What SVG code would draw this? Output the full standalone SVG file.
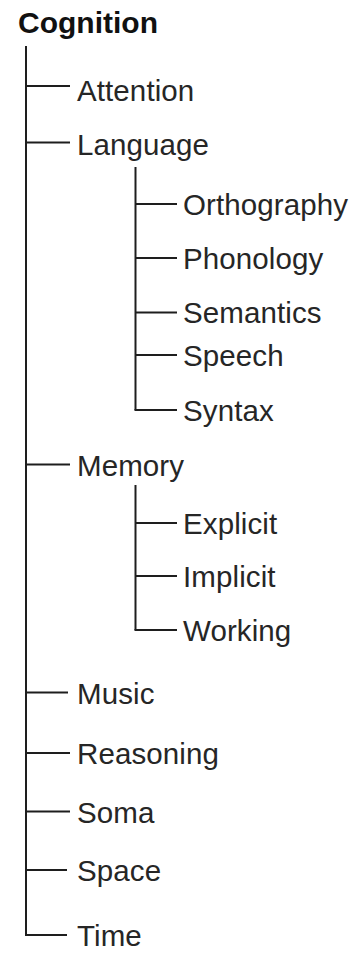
<svg xmlns="http://www.w3.org/2000/svg" width="360" height="953" viewBox="0 0 360 953">
  <style>
    .bg { fill: #ffffff; }
    .link { stroke: #1e1e1e; stroke-width: 2; fill: none; stroke-linecap: butt; }
    .label { font-family: "Liberation Sans", Arial, Helvetica, sans-serif; font-size: 29.5px; letter-spacing: 0.1px; fill: #262626; }
    .root { font-family: "Liberation Sans", Arial, Helvetica, sans-serif; font-size: 30px; font-weight: bold; fill: #111111; }
  </style>
  <rect class="bg" x="0" y="0" width="360" height="953"/>

  <!-- tree connectors -->
  <g id="connectors">
    <path class="link" d="M26 46 V935"/>
    <path class="link" d="M26 86 H70"/>
    <path class="link" d="M26 142.5 H70"/>
    <path class="link" d="M26 464.5 H70"/>
    <path class="link" d="M26 692.5 H68"/>
    <path class="link" d="M26 753 H70"/>
    <path class="link" d="M26 811.5 H70"/>
    <path class="link" d="M25 870 H67"/>
    <path class="link" d="M25 935 H67"/>
    <!-- Language children -->
    <path class="link" d="M135.5 167 V410"/>
    <path class="link" d="M135.5 204 H177"/>
    <path class="link" d="M135.5 258 H177"/>
    <path class="link" d="M135.5 312.5 H177"/>
    <path class="link" d="M135.5 355 H177"/>
    <path class="link" d="M134.5 410 H177"/>
    <!-- Memory children -->
    <path class="link" d="M135.5 485 V630"/>
    <path class="link" d="M135.5 523 H177"/>
    <path class="link" d="M135.5 576 H177"/>
    <path class="link" d="M134.5 630 H177"/>
  </g>

  <g id="cognition"><text class="root" x="18" y="33">Cognition</text></g>
  <g id="attention"><text class="label" x="77" y="101">Attention</text></g>
  <g id="language"><text class="label" x="77" y="155">Language</text></g>
  <g id="orthography"><text class="label" x="183" y="215">Orthography</text></g>
  <g id="phonology"><text class="label" x="183" y="269">Phonology</text></g>
  <g id="semantics"><text class="label" x="183" y="323">Semantics</text></g>
  <g id="speech"><text class="label" x="183" y="366">Speech</text></g>
  <g id="syntax"><text class="label" x="183" y="421">Syntax</text></g>
  <g id="memory"><text class="label" x="77" y="476">Memory</text></g>
  <g id="explicit"><text class="label" x="183" y="534">Explicit</text></g>
  <g id="implicit"><text class="label" x="183" y="587">Implicit</text></g>
  <g id="working"><text class="label" x="183" y="641">Working</text></g>
  <g id="music"><text class="label" x="77" y="704">Music</text></g>
  <g id="reasoning"><text class="label" x="77" y="764">Reasoning</text></g>
  <g id="soma"><text class="label" x="77" y="823">Soma</text></g>
  <g id="space"><text class="label" x="77" y="881">Space</text></g>
  <g id="time"><text class="label" x="77" y="946">Time</text></g>
</svg>
